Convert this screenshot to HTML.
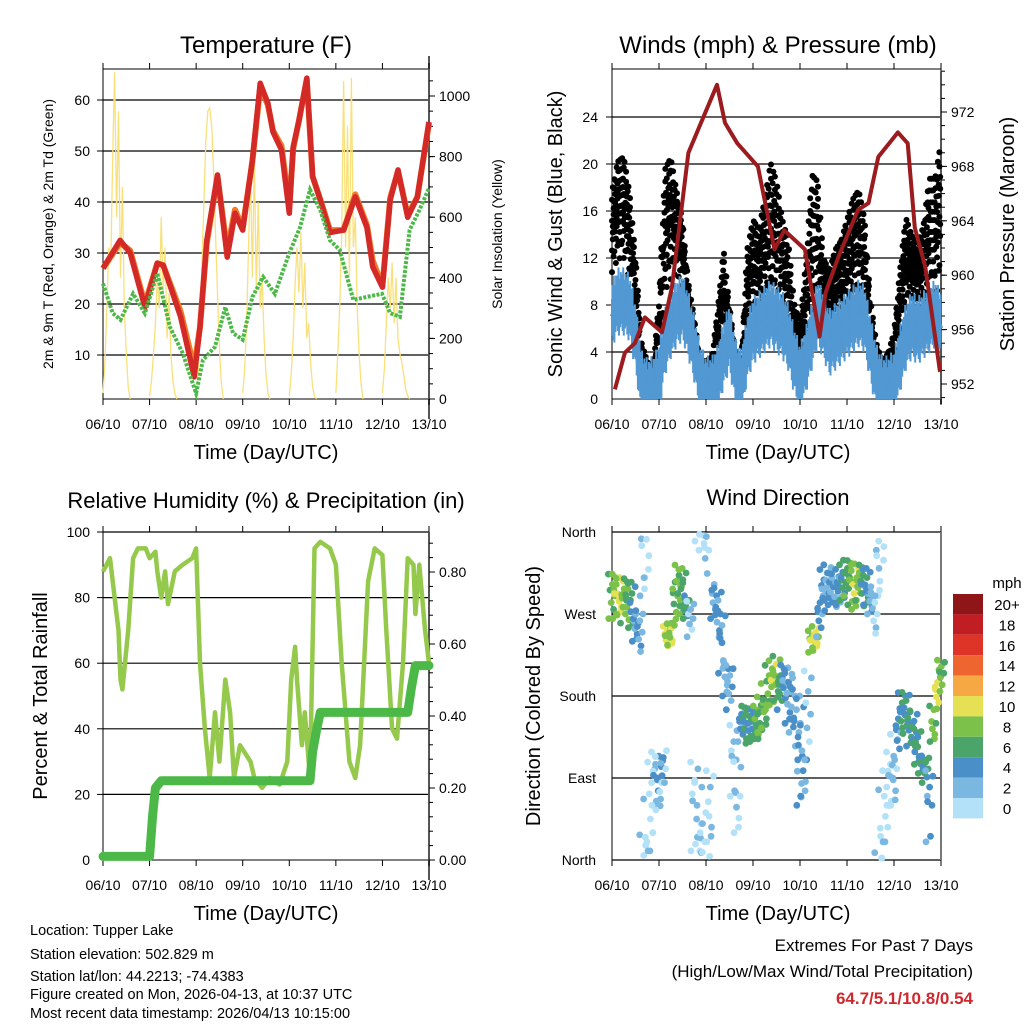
<!DOCTYPE html>
<html><head><meta charset="utf-8"><style>
body{margin:0;background:#fff}
svg{display:block;font-family:"Liberation Sans",sans-serif}
</style></head><body>
<svg id="s" width="1024" height="1024" viewBox="0 0 1024 1024">
<rect width="1024" height="1024" fill="#fff"/>
</svg>
<script>
// ---------- DATA ----------
const dayLabels=["06/10","07/10","08/10","09/10","10/10","11/10","12/10","13/10"];
// Temperature (F)
const tempH=[0,8.8,14,21.6,28,31,40,47,50,53.5,59,64,68,72,77,81,85,87.6,92,96,98,101,105,108,112,117,124,130,136,139,144,148,152,157,162,168];
const tempRed=[27,32.5,30,19.4,28,27.6,17.5,5.7,15.5,32.5,45.3,29.2,37.8,34.5,48.2,63.3,59.4,53.7,50.2,37.8,50.8,56,64.3,45,40.4,34,34.5,41,35,27.3,23.3,40.4,46.3,37,41,55.7];
const tempOrange=[27,32,30.5,20,28,27.6,18.5,7.5,15.5,32,45,30.5,38.5,35,48,62.5,59,54,51,39,50.5,56,64,45,40.5,34.5,34.5,41.5,35.5,28.5,23.5,40.8,46,37.5,41,55.5];
const dewH=[0,5,9,15.5,21.6,28,34.5,41,48,51.5,57.7,63,67,72,77,82.5,88.6,96,101.5,106.7,112,117,122,129,136,143.8,148,153,158,163,168];
const dewVal=[24,18.2,16.9,22,18.2,26,15.5,10.4,2.5,9,11.6,19.4,14.3,13,21.4,25.3,22,30,35,42.4,38.4,32.5,30.6,20.8,21.4,22,18.2,17.5,34.5,38.4,42.7];
// Solar insolation: start hour of each day and hourly profile
const solarStart=[0,24,48,72,96,120,144];
const solarDays=[
[20,120,300,500,450,800,1080,600,950,400,700,300,150,40,0],
[10,60,150,250,400,300,600,350,500,200,350,150,60,20,0],
[10,80,250,450,650,850,950,960,900,750,550,350,170,50,0],
[20,100,250,500,750,400,800,350,650,300,400,200,80,20,0],
[10,80,200,380,500,350,550,300,450,200,250,120,40,10,0],
[20,150,300,550,1050,500,900,400,1060,500,600,300,150,50,0],
[20,100,250,400,300,450,250,400,200,150,120,80,30,10,0]];
// Winds, every 3 hours
const windStep=3;
const windSust=[7,8,8,7.5,5,1,0.3,0.5,1.5,4.5,6,7,7.5,6,4,1.5,0.5,0.5,1.5,3.5,5,2,1,4,5.5,6,6.5,7,6.5,6,5,3,1.5,3,5,7,6,4.5,5,5.5,6,6.5,7,6.5,4,1.5,0.5,0.5,1,3,5,6,5.5,6,6.5,7,6];
const gustHi=[20,23,23.5,20,14,6,4,3.5,10,23,24,20,17,11,8,4,4,4.5,9,15,9,5,4,15,18,17,20,24,22,18,16,10,8,14,23,22,14,13,15,16,18,20,21,18,10,6,4,5,7,13,18,16,15,17,22,22,26];
const gustLo=[10,11,11,9,6,1,0.3,0.3,3,8,9,10,9,6,3,1,0.5,0.5,3,5,4,1,0.5,5,6,6,7,7,7,6,5,2,1,4,6,7,5,4,5,5,6,7,7,6,3,0.5,0.3,0.3,1,4,7,7,7,7,8,8,8];
const presH=[1.5,6.6,11.7,16.8,25.5,30.6,39,46,53.6,57.7,64,74.5,83,88,98.5,106,109,115.5,125.6,131,136,146,151,154.6,160,167.5];
const presVal=[951.6,954.3,955,956.9,955.8,959.1,969,971.4,974,971.2,969.7,968,961.9,963.3,961.9,955.5,958.7,961.3,964.8,965.3,968.7,970.5,969.7,963.5,960.6,952.9];
// RH & precip
const rhH=[0,3.6,5,8,9,10,13,15.5,18,22,24,27,28,30,32,33.5,37,41,46,48,50,52.5,55,57.7,60,63,65.5,67.5,70.6,76,78,82,86,91,95,97,99,100,102.5,104,106.7,109,112,117,120,123,127,130,132.5,136.6,140,144,146,149,151.5,154.6,157,160,161,163,166,168];
const rhVal=[88,92,85,70,55,52,70,92,95,95,92,94,88,80,88,78,88,90,92,95,60,40,25,45,30,55,45,25,35,30,25,22,25,23,30,55,65,55,35,45,25,95,97,95,90,60,30,25,35,85,95,93,70,40,37,60,92,90,75,90,70,60];
const prH=[0,24,25.5,27,30,106.7,108,110,112,157,159,161,168];
const prVal=[0.01,0.01,0.12,0.2,0.22,0.22,0.3,0.36,0.41,0.41,0.48,0.54,0.54];
// Wind direction every 2 hours: center dir, spread, speed
const dirStep=2;
const dirVal=[290,290,290,285,285,280,260,250,340,10,60,90,85,100,245,248,290,300,295,285,265,60,40,20,340,60,290,270,240,210,190,110,70,150,150,148,150,150,160,170,190,195,200,190,195,180,180,140,120,110,160,240,245,270,295,305,300,295,300,305,310,305,300,305,300,300,290,270,330,20,60,90,100,140,160,165,150,140,125,110,100,60,150,185,205];
const dirSpread=[25,25,20,25,25,25,20,25,50,60,50,30,30,25,12,12,30,25,25,20,20,50,50,40,30,40,25,30,35,30,25,40,40,20,20,20,20,20,20,25,25,25,25,25,20,30,40,50,60,40,50,12,12,25,25,20,20,20,20,20,20,25,25,20,25,20,20,25,40,60,40,30,40,30,25,20,25,25,20,15,15,40,20,20,15];
const dirSpeed=[8,9,10,8,7,6,4,3,0.5,0.5,1,2.5,2.5,2.5,10,9,8,8,7,6,2,0.5,0.5,0.5,1,1,4,4,4,3,3,2,1,4,6,6,6,7,7,8,8,9,7,6,4,4,3,3,4,4,2,9,10,4,4,4,4,4,4,6,7,8,9,8,6,5,3,1,0.5,0.5,0.5,1,2,4,5,6,5,5,6,6,6,4,8,10,8];
const speedLabels=["20+","18","16","14","12","10","8","6","4","2","0"];
const speedColors=["#8f1618","#c11e24","#de3327","#ef6530","#f5a843","#e6e055","#7cc24a","#4ba56b","#4a8fc7","#7bb8e1","#b3e1f7"];

// ---------- HELPERS ----------
const S=document.getElementById('s');const NS="http://www.w3.org/2000/svg";
function el(tag,attrs,parent){const e=document.createElementNS(NS,tag);for(const k in attrs)e.setAttribute(k,attrs[k]);(parent||S).appendChild(e);return e;}
function txt(x,y,s,size,anchor,extra){const t=el('text',Object.assign({x:x,y:y,'font-size':size,'text-anchor':anchor||'middle',fill:'#000'},extra||{}));t.textContent=s;return t;}
function pathFrom(xs,ys){let d="";for(let i=0;i<xs.length;i++)d+=(i?"L":"M")+xs[i].toFixed(1)+" "+ys[i].toFixed(1);return d;}
const X1=h=>103+h/168*326, X2=h=>612+h/168*329;
const yT=v=>406-v*5.1, yS=v=>399-v*0.303, yW=v=>399-v*11.75, yP=p=>384-(p-952)*13.6;
const yRH=v=>860-v*3.28, yPr=v=>860-v*360, yD=d=>860-d/360*328;
function interp(arr,step,k){const i=Math.min(Math.floor(k/step),arr.length-2), t=(k-i*step)/step;return arr[i]*(1-t)+arr[i+1]*t;}

function frame(x0,x1,y0,y1,name){
  const r=el('rect',{x:x0,y:y0,width:x1-x0,height:y1-y0,fill:'none',stroke:'#000','stroke-width':1});
  
  
}
function xAxis(X,y0,y1,name){
  const g=el('g',{});
  
  
  for(let i=0;i<dayLabels.length;i++){const x=X(i*24);
    el('line',{x1:x,x2:x,y1:y1,y2:y1+6,stroke:'#000'},g);
    el('line',{x1:x,x2:x,y1:y0,y2:y0-6,stroke:'#000'},g);
    const t=txt(x,y1+30,dayLabels[i],14,'middle');g.appendChild(t);}
}
function gridY(x0,x1,vals,f,labels,name,lx){
  const g=el('g',{});
  
  
  vals.forEach((v,i)=>{const y=f(v);
    el('line',{x1:x0,x2:x1,y1:y,y2:y,stroke:'#000','stroke-width':1.2},g);
    el('line',{x1:x0-6,x2:x0,y1:y,y2:y,stroke:'#000'},g);
    const t=txt(lx,y+5,labels[i],14,'end');g.appendChild(t);});
}
function rightAxis(x,vals,f,labels,name,minor){
  const g=el('g',{});
  
  
  el('line',{x1:x,x2:x,y1:f(vals[0])+20,y2:f(vals[vals.length-1])-40,stroke:'#555','stroke-width':2},g);
  vals.forEach((v,i)=>{const y=f(v);el('line',{x1:x,x2:x+6,y1:y,y2:y,stroke:'#000'},g);
    const t=txt(x+10,y+5,labels[i],14,'start');g.appendChild(t);});
  (minor||[]).forEach(v=>{const y=f(v);el('line',{x1:x,x2:x+4,y1:y,y2:y,stroke:'#000'},g);});
}

// ---------- PANEL 1: Temperature ----------
txt(266,53,"Temperature (F)",24);
frame(103,429,69,399,'temperature-plot-area');
gridY(103,429,[10,20,30,40,50,60],yT,["10","20","30","40","50","60"],'temperature-left-axis',90);
(function(){
 const ls=[];for(let v=0;v<=1050;v+=50)ls.push(v);
 rightAxis(429,[0,200,400,600,800,1000],yS,["0","200","400","600","800","1000"],'solar-right-axis',ls);
})();
xAxis(X1,69,399,'temperature-x-axis');
txt(266,459,"Time (Day/UTC)",20);
txt(0,0,"2m & 9m T (Red, Orange) & 2m Td (Green)",14,'middle',{transform:'translate(53,234) rotate(-90)'});
txt(0,0,"Solar Insolation (Yellow)",14,'middle',{transform:'translate(502,234) rotate(-90)'});
solarDays.forEach((prof,d)=>{
  const xs=prof.map((v,i)=>X1(solarStart[d]+i)), ys=prof.map(v=>yS(v));
  const p=el('path',{d:pathFrom(xs,ys),fill:'none',stroke:'#f9e07a','stroke-width':1.3});
  
  
});
(function(){
 const o=el('path',{d:pathFrom(tempH.map(X1),tempOrange.map(yT)),fill:'none',stroke:'#f07a2a','stroke-width':6,'stroke-linejoin':'round'});
 
 
 const r=el('path',{d:pathFrom(tempH.map(X1),tempRed.map(yT)),fill:'none',stroke:'#d42a27','stroke-width':5.5,'stroke-linejoin':'round'});
 
 
 const g=el('path',{d:pathFrom(dewH.map(X1),dewVal.map(yT)),fill:'none',stroke:'#4cb848','stroke-width':4,'stroke-dasharray':'3 1.5'});
 
 
})();

// ---------- PANEL 2: Winds ----------
txt(778,53,"Winds (mph) & Pressure (mb)",24);
frame(612,941,69,399,'winds-plot-area');
gridY(612,941,[4,8,12,16,20,24],yW,["4","8","12","16","20","24"],'wind-left-axis',598);
txt(598,404,"0",14,'end');
(function(){const m=[];for(let p=951;p<=975;p++)m.push(p);
 rightAxis(941,[952,956,960,964,968,972],yP,["952","956","960","964","968","972"],'pressure-right-axis',m);})();
xAxis(X2,69,399,'winds-x-axis');
txt(778,459,"Time (Day/UTC)",20);
txt(0,0,"Sonic Wind & Gust (Blue, Black)",20,'middle',{transform:'translate(562,234) rotate(-90)'});
txt(0,0,"Station Pressure (Maroon)",20,'middle',{transform:'translate(1014,234) rotate(-90)'});
(function(){
 const gg=el('g',{fill:'#000'});
 
 
 const frac=[0.08,0.3,0.45,0.55,0.7,0.9,0.2,0.62,0.38,0.8];
 for(let k=0;k<=168;k+=0.4){
   const hi=interp(gustHi,windStep,k), lo=interp(gustLo,windStep,k);
   const n=Math.round(k*5)%10;
   for(let j=0;j<4;j++){const f=frac[(n+j*3)%10];const v=lo+(hi-lo)*(j==0&&n%3==0?f:0.12+0.72*f);
     el('circle',{cx:X2(k).toFixed(1),cy:yW(v).toFixed(1),r:3},gg);}
 }
 // sustained wind band
 const bg=el('g',{stroke:'#5298d2','stroke-width':2});
 
 
 const up=[1.5,2.6,1.2,3.2,1.8,2.2,1.0,2.8], dn=[1.6,0.9,2.2,1.3,2.6,1.1,1.9,1.4];
 let m=0;
 for(let k=0;k<=168;k+=0.3){const v=interp(windSust,windStep,k);
   el('line',{x1:X2(k).toFixed(1),x2:X2(k).toFixed(1),y1:yW(Math.max(0,v-dn[m%8])).toFixed(1),y2:yW(v+up[m%8]).toFixed(1)},bg);m++;}
 const hs=windSust.map((v,i)=>i*windStep);
 const b=el('path',{d:pathFrom(hs.map(X2),windSust.map(yW)),fill:'none',stroke:'#5298d2','stroke-width':5,'stroke-linejoin':'round'});
 
 
 const p=el('path',{d:pathFrom(presH.map(X2),presVal.map(yP)),fill:'none',stroke:'#9b1b1e','stroke-width':4,'stroke-linejoin':'round'});
 
 
})();

// ---------- PANEL 3: RH & precip ----------
txt(266,508,"Relative Humidity (%) & Precipitation (in)",22);
frame(103,429,532,860,'rh-plot-area');
gridY(103,429,[20,40,60,80,100],yRH,["20","40","60","80","100"],'rh-left-axis',90);
txt(90,865,"0",14,'end');
(function(){const m=[];for(let v=0;v<=0.9;v+=0.04)m.push(v);
 rightAxis(429,[0,0.2,0.4,0.6,0.8],yPr,["0.00","0.20","0.40","0.60","0.80"],'precip-right-axis',m);})();
xAxis(X1,532,860,'rh-x-axis');
txt(266,920,"Time (Day/UTC)",20);
txt(0,0,"Percent & Total Rainfall",20,'middle',{transform:'translate(47,696) rotate(-90)'});
(function(){
 const r=el('path',{d:pathFrom(rhH.map(X1),rhVal.map(yRH)),fill:'none',stroke:'#94c94c','stroke-width':4.5,'stroke-linejoin':'round'});
 
 
 const p=el('path',{d:pathFrom(prH.map(X1),prVal.map(yPr)),fill:'none',stroke:'#4cb848','stroke-width':9,'stroke-linejoin':'round','stroke-linecap':'round'});
 
 
})();

// ---------- PANEL 4: Wind direction ----------
txt(778,505,"Wind Direction",22);
frame(612,941,532,860,'direction-plot-area');
(function(){const g=el('g',{});
 
 
 const dl=["North","East","South","West","North"];
 [0,90,180,270,360].forEach((d,i)=>{const y=yD(d);
   el('line',{x1:612,x2:941,y1:y,y2:y,stroke:'#000','stroke-width':1.2},g);
   g.appendChild(txt(596,y+5,dl[i],14,'end'));});
 el('line',{x1:941,x2:941,y1:532,y2:860,stroke:'#777','stroke-width':2},g);
})();
xAxis(X2,532,860,'direction-x-axis');
txt(778,920,"Time (Day/UTC)",20);
txt(0,0,"Direction (Colored By Speed)",20,'middle',{transform:'translate(540,696) rotate(-90)'});
(function(){
 const g=el('g',{});
 
 
 const off=[-1,-0.6,-0.3,0,0.25,0.5,0.8,0.95,-0.85,0.1];
 const tx=[-0.8,0.4,-0.2,0.7,-0.5,0.1,0.9,-0.9,0.3,-0.4];
 for(let i=0;i<dirVal.length;i++){
   for(let j=0;j<8;j++){
     const k=(i*3+j)%10;
     let d=dirVal[i]+dirSpread[i]*off[k];d=((d%360)+360)%360;
     const sp=dirSpeed[i]+(j%3==0?1.5:(j%3==1?-1:0));
     const bin=Math.max(0,Math.min(10,Math.floor(Math.max(sp,0)/2)));
     el('circle',{cx:(X2(i*dirStep)+tx[k]*4).toFixed(1),cy:yD(d).toFixed(1),r:3.4,fill:speedColors[10-bin]},g);
   }
 }
})();
(function(){const g=el('g',{});
 
 
 g.appendChild(txt(1007,588,"mph",15));
 speedColors.forEach((c,i)=>{const y=594+i*20.4;
   el('rect',{x:953,y:y,width:30,height:20.4,fill:c},g);
   g.appendChild(txt(1007,y+16,speedLabels[i],15));});
})();

// ---------- footer ----------
(function(){const g=el('g',{});
 
 
 const lines=["Location: Tupper Lake","Station elevation: 502.829 m","Station lat/lon: 44.2213; -74.4383","Figure created on Mon, 2026-04-13, at 10:37 UTC","Most recent data timestamp: 2026/04/13 10:15:00"];
 const ys=[935,959,981,999,1018];
 lines.forEach((s,i)=>g.appendChild(txt(30,ys[i],s,14.5,'start')));
})();
(function(){const g=el('g',{});
 
 
 g.appendChild(txt(973,951,"Extremes For Past 7 Days",17,'end'));
 g.appendChild(txt(973,977,"(High/Low/Max Wind/Total Precipitation)",17,'end'));
 g.appendChild(txt(973,1004,"64.7/5.1/10.8/0.54",17,'end',{fill:'#d0282e','font-weight':'bold'}));
})();
</script>
</body></html>
